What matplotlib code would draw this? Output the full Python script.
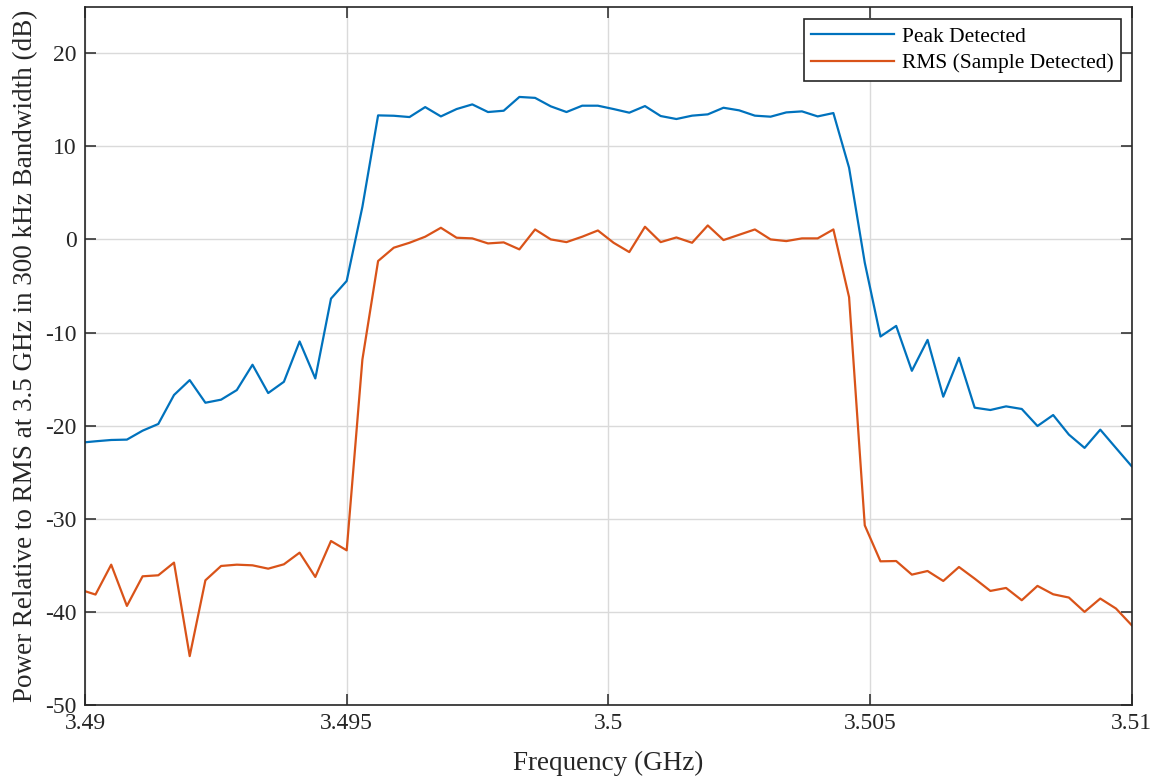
import matplotlib
matplotlib.use("Agg")
import matplotlib.pyplot as plt

# Sweep frequencies (GHz) and measured levels (dB rel. RMS at 3.5 GHz)
freq_ghz = [3.4899, 3.4902, 3.4905, 3.4908, 3.4911, 3.4914, 3.4917, 3.4920,
            3.4923, 3.4926, 3.4929, 3.4932, 3.4935, 3.4938, 3.4941, 3.4944,
            3.4947, 3.4950, 3.4953, 3.4956, 3.4959, 3.4962, 3.4965, 3.4968,
            3.4971, 3.4974, 3.4977, 3.4980, 3.4983, 3.4986, 3.4989, 3.4992,
            3.4995, 3.4998, 3.5001, 3.5004, 3.5007, 3.5010, 3.5013, 3.5016,
            3.5019, 3.5022, 3.5025, 3.5028, 3.5031, 3.5034, 3.5037, 3.5040,
            3.5043, 3.5046, 3.5049, 3.5052, 3.5055, 3.5058, 3.5061, 3.5064,
            3.5067, 3.5070, 3.5073, 3.5076, 3.5079, 3.5082, 3.5085, 3.5088,
            3.5091, 3.5094, 3.5097, 3.5100]

peak_db = [-21.84, -21.68, -21.54, -21.50, -20.54, -19.82, -16.71, -15.11,
           -17.54, -17.21, -16.18, -13.46, -16.50, -15.29, -10.96, -14.93,
           -6.36, -4.46, 3.5, 13.32, 13.28, 13.14, 14.21, 13.21,
           14.00, 14.50, 13.68, 13.82, 15.30, 15.20, 14.29, 13.68,
           14.36, 14.36, 14.00, 13.61, 14.32, 13.25, 12.93, 13.29,
           13.43, 14.14, 13.86, 13.29, 13.18, 13.64, 13.75, 13.21,
           13.57, 7.7, -2.5, -10.43, -9.29, -14.11, -10.79, -16.89,
           -12.71, -18.07, -18.32, -17.93, -18.21, -20.04, -18.86, -20.96,
           -22.39, -20.43, -22.40, -24.36]

rms_db = [-37.60, -38.14, -34.93, -39.36, -36.18, -36.07, -34.71, -44.75,
          -36.61, -35.07, -34.93, -35.00, -35.36, -34.89, -33.64, -36.25,
          -32.39, -33.39, -12.9, -2.32, -0.89, -0.36, 0.29, 1.25,
          0.18, 0.11, -0.43, -0.32, -1.07, 1.07, 0.00, -0.29,
          0.29, 0.96, -0.36, -1.36, 1.36, -0.29, 0.21, -0.36,
          1.50, -0.07, 0.50, 1.07, 0.00, -0.18, 0.11, 0.11,
          1.07, -6.2, -30.71, -34.57, -34.54, -36.00, -35.61, -36.68,
          -35.18, -36.43, -37.75, -37.43, -38.75, -37.21, -38.11, -38.46,
          -40.00, -38.57, -39.64, -41.43]

x_ticks = [3.49, 3.495, 3.5, 3.505, 3.51]
x_tick_labels = ["3.49", "3.495", "3.5", "3.505", "3.51"]
y_ticks = [-50, -40, -30, -20, -10, 0, 10, 20]
y_tick_labels = ["-50", "-40", "-30", "-20", "-10", "0", "10", "20"]

plt.rcParams["font.family"] = ["Liberation Serif", "DejaVu Serif"]

fig = plt.figure(figsize=(11.57, 7.79), dpi=100)
ax = fig.add_axes([0.0735, 0.095, 0.9046, 0.8965])

ax.plot(freq_ghz, peak_db, color="#0072BD", lw=1.6, label="Peak Detected")
ax.plot(freq_ghz, rms_db, color="#D95319", lw=1.6, label="RMS (Sample Detected)")

ax.set_xlim(3.49, 3.51)
ax.set_ylim(-50, 25)
ax.set_xticks(x_ticks)
ax.set_xticklabels(x_tick_labels)
ax.set_yticks(y_ticks)
ax.set_yticklabels(y_tick_labels)

ax.grid(True, color="#dadada", lw=1.0)
ax.set_axisbelow(True)
ax.tick_params(direction="in", length=8, width=1.1, top=True, right=True,
               labelsize=17, colors="#262626", pad=6)
for s in ax.spines.values():
    s.set_color("#262626")
    s.set_linewidth(1.2)

ax.set_xlabel("Frequency (GHz)", fontsize=19.5, color="#262626", labelpad=12)
ax.set_ylabel("Power Relative to RMS at 3.5 GHz in 300 kHz Bandwidth (dB)",
              fontsize=19.5, color="#262626", labelpad=5)

leg = ax.legend(loc="upper right", bbox_to_anchor=(0.99, 0.982),
                borderaxespad=0, fontsize=15.5, fancybox=False,
                framealpha=1, edgecolor="#262626", handlelength=3.85,
                labelspacing=0.3, borderpad=0.35, handletextpad=0.35)
leg.get_frame().set_linewidth(1.2)

fig.savefig("out.png", dpi=100)
